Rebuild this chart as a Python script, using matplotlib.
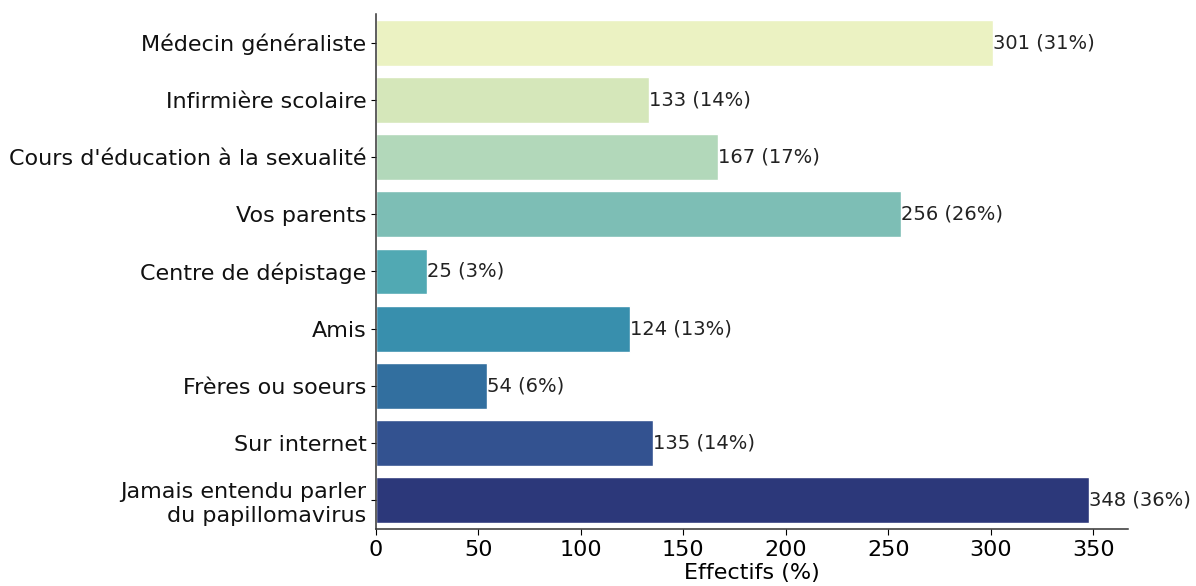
import numpy as np
import matplotlib
matplotlib.use("Agg")
import matplotlib.pyplot as plt
import seaborn as sns

categories = [
    "Médecin généraliste",
    "Infirmière scolaire",
    "Cours d'éducation à la sexualité",
    "Vos parents",
    "Centre de dépistage",
    "Amis",
    "Frères ou soeurs",
    "Sur internet",
    "Jamais entendu parler\ndu papillomavirus",
]
counts = [301, 133, 167, 256, 25, 124, 54, 135, 348]
percents = [31, 14, 17, 26, 3, 13, 6, 14, 36]
xticks = [0, 50, 100, 150, 200, 250, 300, 350]

# seaborn barplot style: palette desaturated to 0.75
colors = [sns.desaturate(c, 0.75) for c in sns.color_palette("YlGnBu", len(categories))]

fig = plt.figure(figsize=(11.96, 5.86), dpi=100)
ax = fig.add_axes([0.3144, 0.0973, 0.6287, 0.8788])

y = np.arange(len(categories))
ax.barh(y, counts, height=0.8, color=colors, edgecolor="white", linewidth=1)

for yi, c, p in zip(y, counts, percents):
    ax.text(c, yi, f"{c} ({p}%)", va="center", ha="left", fontsize=14, color="#222222")

ax.set_yticks(y)
ax.set_yticklabels(categories, fontsize=16, color="#111111")
ax.set_xticks(xticks)
ax.tick_params(axis="x", labelsize=16, length=4, pad=4)
ax.set_ylim(8.5, -0.5)
ax.set_xlim(0, 367)
ax.set_xlabel("Effectifs (%)", fontsize=16, labelpad=2)

ax.spines["top"].set_visible(False)
ax.spines["right"].set_visible(False)
for s in ["left", "bottom"]:
    ax.spines[s].set_linewidth(1.1)
    ax.spines[s].set_color("#333333")

fig.savefig("out.png", dpi=100)
